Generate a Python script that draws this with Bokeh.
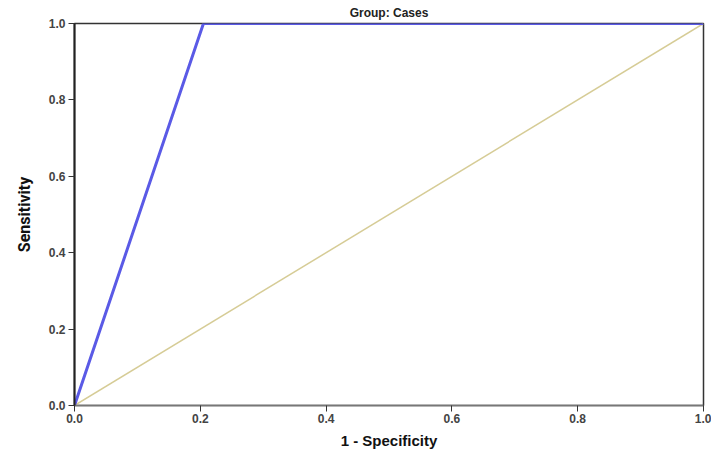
from bokeh.plotting import figure
from bokeh.models import Range1d, FixedTicker, Title, PrintfTickFormatter
from bokeh.embed import file_html
from bokeh.resources import INLINE

roc_x = [0.0, 0.205, 1.0]
roc_y = [0.0, 1.0, 1.0]
ref_x = [0.0, 1.0]
ref_y = [0.0, 1.0]
ticks = [0.0, 0.2, 0.4, 0.6, 0.8, 1.0]

p = figure(width=711, height=453, output_backend="svg", toolbar_location=None,
           x_range=Range1d(0, 1), y_range=Range1d(0, 1),
           min_border_left=74, min_border_right=8, min_border_top=22, min_border_bottom=48)
p.title = None
p.grid.visible = False
p.outline_line_color = "#333333"
p.outline_line_width = 1.5
p.background_fill_color = "white"
p.border_fill_color = "white"

p.line(ref_x, ref_y, line_color="#d6cc96", line_width=1.5)
p.line(roc_x, roc_y, line_color="#5a5ae6", line_width=3)

for ax, lab in ((p.xaxis[0], "1 - Specificity"), (p.yaxis[0], "Sensitivity")):
    ax.ticker = FixedTicker(ticks=ticks)
    ax.formatter = PrintfTickFormatter(format="%.1f")
    ax.minor_tick_line_color = None
    ax.major_tick_in = 0
    ax.major_tick_out = 6
    ax.major_label_text_font = "Liberation Sans"
    ax.major_label_text_font_size = "12px"
    ax.major_label_text_font_style = "bold"
    ax.major_label_text_color = "#444444"
    ax.axis_label = lab
    ax.axis_label_text_font = "Liberation Sans"
    ax.axis_label_text_font_style = "bold"
    ax.axis_label_text_color = "#111111"
    ax.major_tick_line_color = "#333333"

p.xaxis[0].axis_line_color = "#777777"
p.xaxis[0].axis_line_width = 1.5
p.xaxis[0].axis_label_text_font_size = "15px"
p.xaxis[0].axis_label_standoff = 6
p.xaxis[0].major_label_standoff = 2
p.yaxis[0].axis_line_color = "#222222"
p.yaxis[0].axis_line_width = 2
p.yaxis[0].major_label_standoff = 3
p.yaxis[0].axis_label_text_font = "Roboto"
p.yaxis[0].axis_label_text_font_size = "16px"
p.yaxis[0].axis_label_standoff = 12

p.add_layout(Title(text="Group: Cases", align="center", text_font="Liberation Sans",
                   text_font_size="12px", text_font_style="bold", text_color="#222222",
                   offset=0, standoff=7), "above")

open("out.html", "w").write(file_html(p, INLINE))
